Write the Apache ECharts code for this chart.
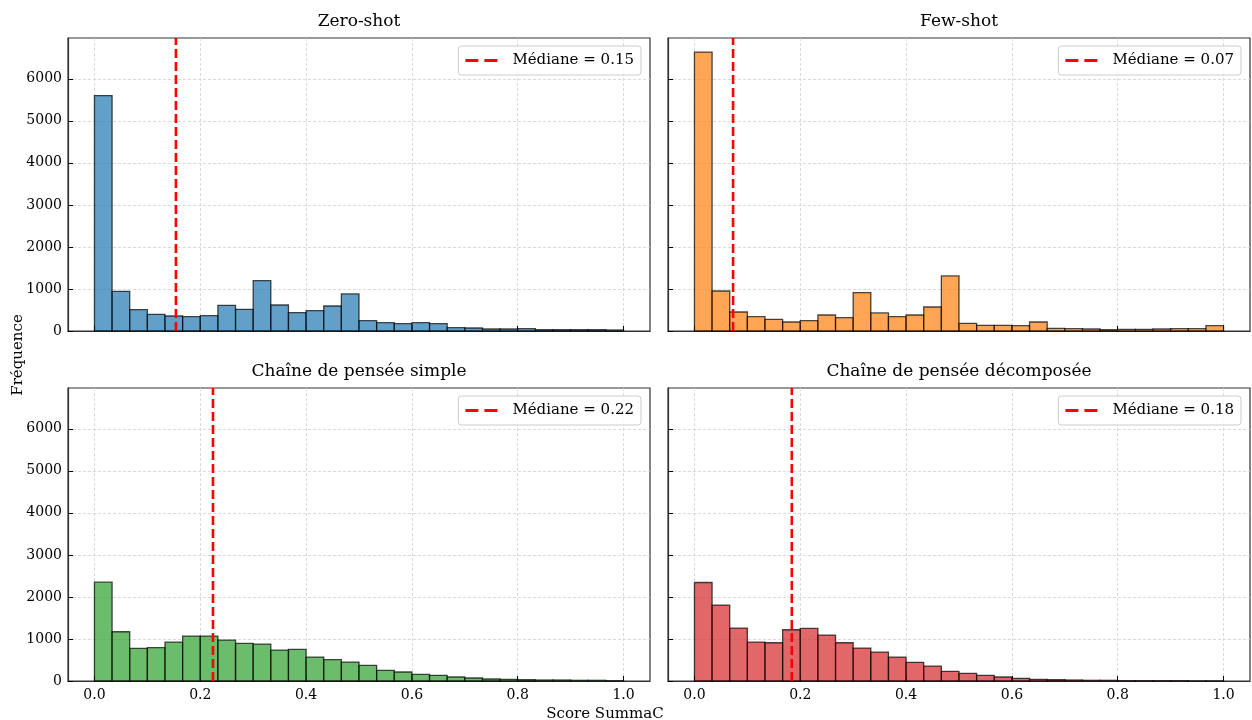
<!DOCTYPE html>
<html>
<head>
<meta charset="utf-8">
<script src="https://cdn.jsdelivr.net/npm/echarts@6/dist/echarts.min.js"></script>
<style>
  html, body { margin: 0; padding: 0; background: #fff; }
  #main { width: 1252px; height: 720px; }
</style>
</head>
<body>
<div id="main"></div>
<script>
// histogrammes, 30 classes entre 0 et 1
var panelTitles = ['Zero-shot', 'Few-shot', 'Chaîne de pensée simple', 'Chaîne de pensée décomposée']
var panelColors = ['#1f77b4', '#ff7f0e', '#2ca02c', '#d62728']
var medians = [0.154, 0.073, 0.224, 0.184]

var countsZeroShot = [5600, 944, 508, 397, 357, 341, 365, 611, 516, 1198,
  619, 437, 484, 595, 881, 246, 198, 175, 198, 175,
  79, 71, 48, 48, 56, 32, 32, 32, 32, 24]
var countsFewShot = [6635, 952, 452, 341, 278, 214, 246, 381, 317, 913,
  429, 341, 381, 571, 1310, 183, 135, 135, 127, 214,
  63, 56, 48, 32, 40, 40, 48, 56, 56, 127]
var countsCotSimple = [2351, 1172, 776, 792, 926, 1069, 1069, 974, 895, 879,
  736, 752, 570, 507, 451, 372, 253, 214, 158, 135,
  95, 71, 48, 40, 32, 24, 24, 16, 16, 8]
var countsCotDecomp = [2343, 1805, 1259, 926, 910, 1219, 1251, 1093, 910, 784,
  689, 570, 444, 356, 230, 182, 135, 95, 63, 40,
  32, 24, 16, 16, 8, 8, 8, 8, 4, 4]
var allCounts = [countsZeroShot, countsFewShot, countsCotSimple, countsCotDecomp]

var xTicks = [0, 0.2, 0.4, 0.6, 0.8, 1.0]
var yTicks = [0, 1000, 2000, 3000, 4000, 5000, 6000]
var nBins = 30
var yMax = 6970

var font = 'DejaVu Serif'
var grids = [
  { left: 68, top: 38, width: 582, height: 293 },
  { left: 668, top: 38, width: 582, height: 293 },
  { left: 68, top: 388, width: 582, height: 293 },
  { left: 668, top: 388, width: 582, height: 293 }
]
// trait pointillé de la légende (2 tirets)
var dashIcon = 'path://M0,0h13v3h-13zM19,0h13v3h-13z'

function toRgba (hex, a) {
  var r = parseInt(hex.slice(1, 3), 16)
  var g = parseInt(hex.slice(3, 5), 16)
  var b = parseInt(hex.slice(5, 7), 16)
  return 'rgba(' + r + ',' + g + ',' + b + ',' + a + ')'
}

var option = {
  animation: false,
  backgroundColor: '#fff',
  textStyle: { fontFamily: font },
  grid: [],
  xAxis: [],
  yAxis: [],
  legend: [],
  series: [],
  graphic: []
}

grids.forEach(function (g, i) {
  option.grid.push({
    left: g.left, top: g.top, width: g.width, height: g.height,
    show: true, borderColor: '#333', borderWidth: 1.2, backgroundColor: 'transparent'
  })
  var bottomRow = i >= 2
  var leftCol = i % 2 === 0
  option.xAxis.push({
    type: 'value', gridIndex: i, position: 'bottom', min: -0.05, max: 1.05,
    axisLine: { show: true, onZero: false, lineStyle: { color: '#333', width: 1.2 } },
    axisTick: { show: true, inside: true, length: 5, customValues: xTicks, lineStyle: { color: '#000', width: 1 } },
    axisLabel: {
      show: bottomRow, customValues: xTicks, margin: 7,
      fontFamily: font, fontSize: 14, color: '#000',
      formatter: function (v) { return v.toFixed(1) }
    },
    splitLine: { show: true, lineStyle: { color: '#d0d0d0', type: [3, 2], width: 0.8 } }
  })
  option.yAxis.push({
    type: 'value', gridIndex: i, position: 'left', min: 0, max: yMax,
    axisLine: { show: true, onZero: false, lineStyle: { color: '#333', width: 1.2 } },
    axisTick: { show: true, inside: true, length: 5, customValues: yTicks, lineStyle: { color: '#000', width: 1 } },
    axisLabel: {
      show: leftCol, customValues: yTicks, margin: 6,
      fontFamily: font, fontSize: 14, color: '#000',
      formatter: function (v) { return String(v) }
    },
    splitLine: { show: true, lineStyle: { color: '#d0d0d0', type: [3, 2], width: 0.8 } }
  })

  var color = panelColors[i]
  var binData = allCounts[i].map(function (c, k) {
    return [k / nBins, (k + 1) / nBins, c]
  })
  option.series.push({
    type: 'custom',
    xAxisIndex: i, yAxisIndex: i,
    data: binData,
    encode: { x: [0, 1], y: 2 },
    renderItem: function (params, api) {
      var p0 = api.coord([api.value(0), api.value(2)])
      var p1 = api.coord([api.value(1), 0])
      return {
        type: 'rect',
        shape: { x: p0[0], y: p0[1], width: p1[0] - p0[0], height: p1[1] - p0[1] },
        style: { fill: toRgba(color, 0.7), stroke: 'rgba(0,0,0,0.7)', lineWidth: 1.3 }
      }
    }
  })

  var medName = 'Médiane = ' + medians[i].toFixed(2)
  option.series.push({
    type: 'line',
    name: medName,
    xAxisIndex: i, yAxisIndex: i,
    data: [[medians[i], 0], [medians[i], yMax]],
    symbol: 'none',
    z: 5,
    lineStyle: { color: '#ff0000', width: 2.6, type: [9, 4] },
    itemStyle: { color: '#ff0000' }
  })

  option.legend.push({
    data: [{ name: medName, icon: dashIcon }],
    right: 1252 - (g.left + g.width) + 9,
    top: g.top + 8,
    orient: 'vertical',
    backgroundColor: 'rgba(255,255,255,0.8)',
    borderColor: '#cccccc',
    borderWidth: 1,
    borderRadius: 3,
    padding: [7, 7, 7, 7],
    itemWidth: 32,
    itemHeight: 3,
    itemGap: 4,
    itemStyle: { color: '#ff0000' },
    textStyle: { fontFamily: font, fontSize: 15, color: '#000', padding: [0, 0, 0, 10] }
  })

  option.graphic.push({
    type: 'text',
    x: g.left + g.width / 2,
    y: g.top - 8,
    style: {
      text: panelTitles[i],
      font: '17px "' + font + '"',
      fill: '#000',
      align: 'center',
      verticalAlign: 'bottom'
    }
  })
})

option.graphic.push({
  type: 'text',
  x: 18, y: 355,
  rotation: Math.PI / 2,
  style: { text: 'Fréquence', font: '15px "' + font + '"', fill: '#000', align: 'center', verticalAlign: 'middle' }
})
option.graphic.push({
  type: 'text',
  x: 605, y: 714,
  style: { text: 'Score SummaC', font: '15px "' + font + '"', fill: '#000', align: 'center', verticalAlign: 'middle' }
})

var chart = echarts.init(document.getElementById('main'))
chart.setOption(option)
</script>
</body>
</html>
